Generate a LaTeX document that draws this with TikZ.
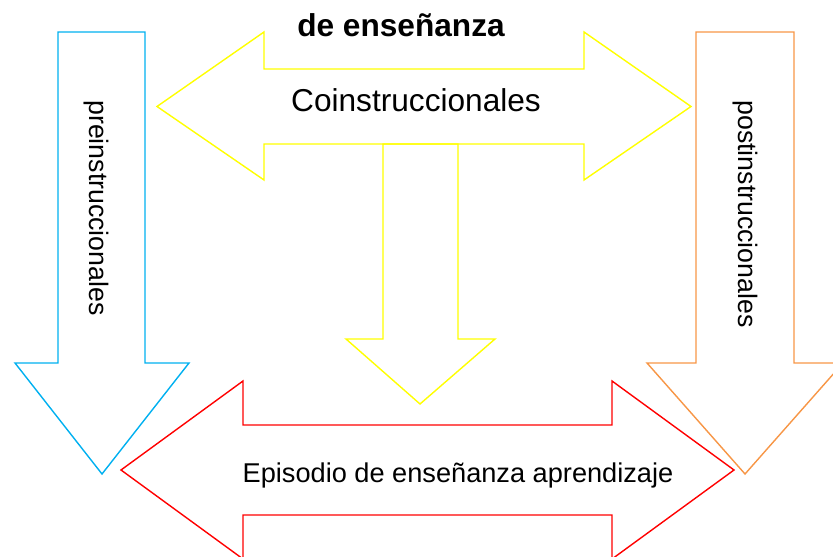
\documentclass[tikz,border=0pt]{standalone}
\usepackage{fontspec}
\setmainfont{Liberation Sans}
\usepackage{tikz}
\usetikzlibrary{positioning}
\definecolor{azul}{HTML}{00B0F0}
\definecolor{amarillo}{HTML}{FFFF00}
\definecolor{naranja}{HTML}{F79646}
\definecolor{rojo}{HTML}{FF0000}
\newcommand{\grande}{\fontsize{13.5pt}{16pt}\selectfont}
\newcommand{\medio}{\fontsize{11.4pt}{13pt}\selectfont}
\newcommand{\episodio}{\fontsize{11.6pt}{13pt}\selectfont}

\begin{document}
\begin{tikzpicture}[scale=0.15]
		\tikzstyle{every node}+=[inner sep=0pt]
		\tikzstyle{flecha}=[line width=0.6pt, line join=miter]
		\clip (0,0) rectangle (83.3,-55.7);
		\draw [azul, flecha] (5.8,-3.2) -- (14.5,-3.2) -- (14.5,-36.3) -- (18.9,-36.3) -- (10.2,-47.4) -- (1.5,-36.3) -- (5.8,-36.3) -- cycle;
		\draw (9.6,-20.8) node (pre) [rotate=-90] {\medio preinstruccionales};
		\draw [naranja, flecha] (69.6,-3.2) -- (79.4,-3.2) -- (79.4,-36.3) -- (84.3,-36.3) -- (74.5,-47.4) -- (64.7,-36.3) -- (69.6,-36.3) -- cycle;
		\draw (74.5,-21.4) node (post) [rotate=-90] {\medio postinstruccionales};
		\draw [amarillo, flecha] (15.7,-10.65) -- (26.4,-3.2) -- (26.4,-6.9) -- (58.4,-6.9) -- (58.4,-3.2) -- (69.1,-10.65) -- (58.4,-18.0) -- (58.4,-14.4) -- (26.4,-14.4) -- (26.4,-18.0) -- cycle;
		\draw [amarillo, flecha] (38.3,-14.4) -- (45.8,-14.4) -- (45.8,-33.9) -- (49.5,-33.9) -- (42.0,-40.4) -- (34.6,-33.9) -- (38.3,-33.9) -- cycle;
		\draw (41.6,-11.2) node (co) [anchor=base] {\grande Coinstruccionales};
		\draw [rojo, flecha] (12.1,-47.0) -- (24.3,-38.1) -- (24.3,-42.5) -- (61.2,-42.5) -- (61.2,-38.1) -- (73.4,-47.0) -- (61.2,-55.9) -- (61.2,-51.5) -- (24.3,-51.5) -- (24.3,-55.9) -- cycle;
		\draw (45.8,-48.3) node (epi) [anchor=base] {\episodio Episodio de enseñanza aprendizaje};
		\draw (40.1,-3.7) node (titulo) [anchor=base] {\grande\bfseries de enseñanza};
\end{tikzpicture}
\end{document}
